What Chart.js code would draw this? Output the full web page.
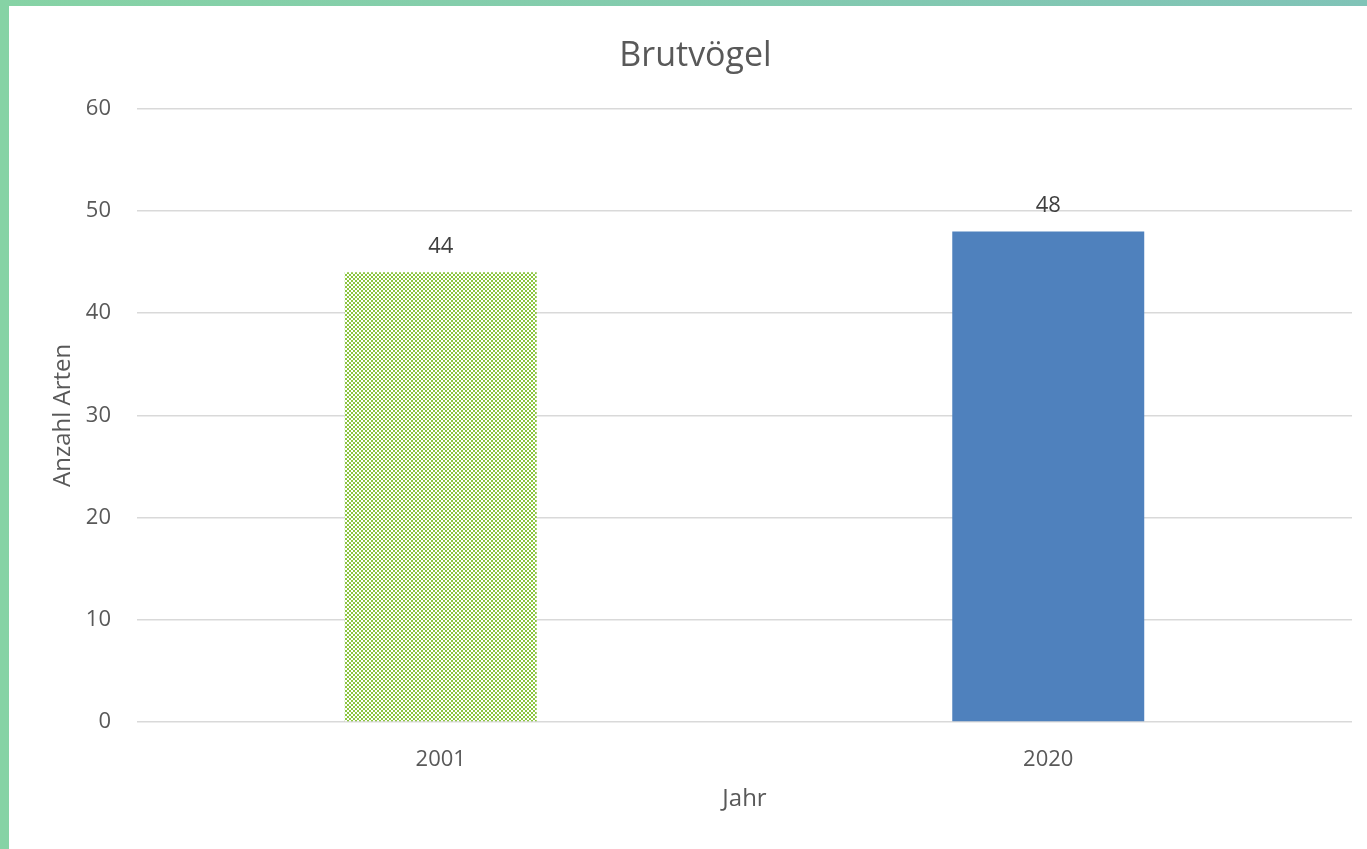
<!DOCTYPE html>
<html>
<head>
<meta charset="utf-8">
<script src="https://cdn.jsdelivr.net/npm/chart.js@4/dist/chart.umd.min.js"></script>
<style>
  html, body { margin: 0; padding: 0; }
  body {
    width: 1367px; height: 849px; overflow: hidden;
    background: linear-gradient(to right, #86d3a5, #80c3b7);
  }
  .frame {
    position: absolute; left: 9px; top: 6px;
    width: 1358px; height: 843px; background: #fff;
  }
</style>
</head>
<body>
<div class="frame"><canvas id="chart" width="1358" height="843"></canvas></div>
<script>
// Daten
const years = ["2001", "2020"];
const speciesCount = [44, 48];
const yTicks = [0, 10, 20, 30, 40, 50, 60];

const textColor = "#595959";
const fontFamily = "'Open Sans', 'Noto Sans', sans-serif";

// Karomuster für den ersten Balken
function makeChecker(color) {
  const c = document.createElement("canvas");
  c.width = 4;
  c.height = 4;
  const g = c.getContext("2d");
  g.fillStyle = "#ffffff";
  g.fillRect(0, 0, 4, 4);
  g.fillStyle = color;
  g.fillRect(0, 0, 2, 2);
  g.fillRect(2, 2, 2, 2);
  return g.createPattern(c, "repeat");
}

// Werte über den Balken
const valueLabels = {
  id: "valueLabels",
  afterDatasetsDraw(chart) {
    const ctx = chart.ctx;
    const meta = chart.getDatasetMeta(0);
    ctx.save();
    ctx.font = "22px " + fontFamily;
    ctx.fillStyle = "#404040";
    ctx.textAlign = "center";
    ctx.textBaseline = "middle";
    meta.data.forEach((bar, i) => {
      ctx.fillText(String(speciesCount[i]), bar.x, bar.y - 26);
    });
    ctx.restore();
  },
};

const ctx = document.getElementById("chart").getContext("2d");
new Chart(ctx, {
  type: "bar",
  data: {
    labels: years,
    datasets: [
      {
        label: "Anzahl Arten",
        data: speciesCount,
        backgroundColor: [makeChecker("#8cc63f"), "#4f81bd"],
        borderWidth: 0,
        categoryPercentage: 1,
        barPercentage: 0.316,
      },
    ],
  },
  options: {
    responsive: false,
    animation: false,
    layout: { padding: { left: 30, right: 15, top: 0, bottom: 0 } },
    plugins: {
      legend: { display: false },
      tooltip: { enabled: false },
      title: {
        display: true,
        text: "Brutvögel",
        color: textColor,
        font: { family: fontFamily, size: 34, weight: "normal" },
        padding: { top: 30, bottom: 32 },
      },
    },
    scales: {
      y: {
        min: 0,
        max: 60,
        afterBuildTicks: (scale) => {
          scale.ticks = yTicks.map((v) => ({ value: v }));
        },
        afterFit: (scale) => {
          scale.width = 98;
        },
        border: { display: false },
        grid: { color: "#d9d9d9", lineWidth: 1.5, drawTicks: false },
        ticks: {
          color: textColor,
          padding: 26,
          font: { family: fontFamily, size: 22 },
        },
        title: {
          display: true,
          text: "Anzahl Arten",
          color: textColor,
          font: { family: fontFamily, size: 24 },
          padding: { top: 10, bottom: 0 },
        },
      },
      x: {
        afterFit: (scale) => {
          scale.height = 127;
        },
        border: { display: false },
        grid: { display: false, drawTicks: false },
        ticks: {
          color: textColor,
          padding: 25,
          font: { family: fontFamily, size: 22 },
        },
        title: {
          display: true,
          text: "Jahr",
          color: textColor,
          font: { family: fontFamily, size: 24 },
          padding: { top: 0, bottom: 35 },
        },
      },
    },
  },
  plugins: [valueLabels],
});
</script>
</body>
</html>
